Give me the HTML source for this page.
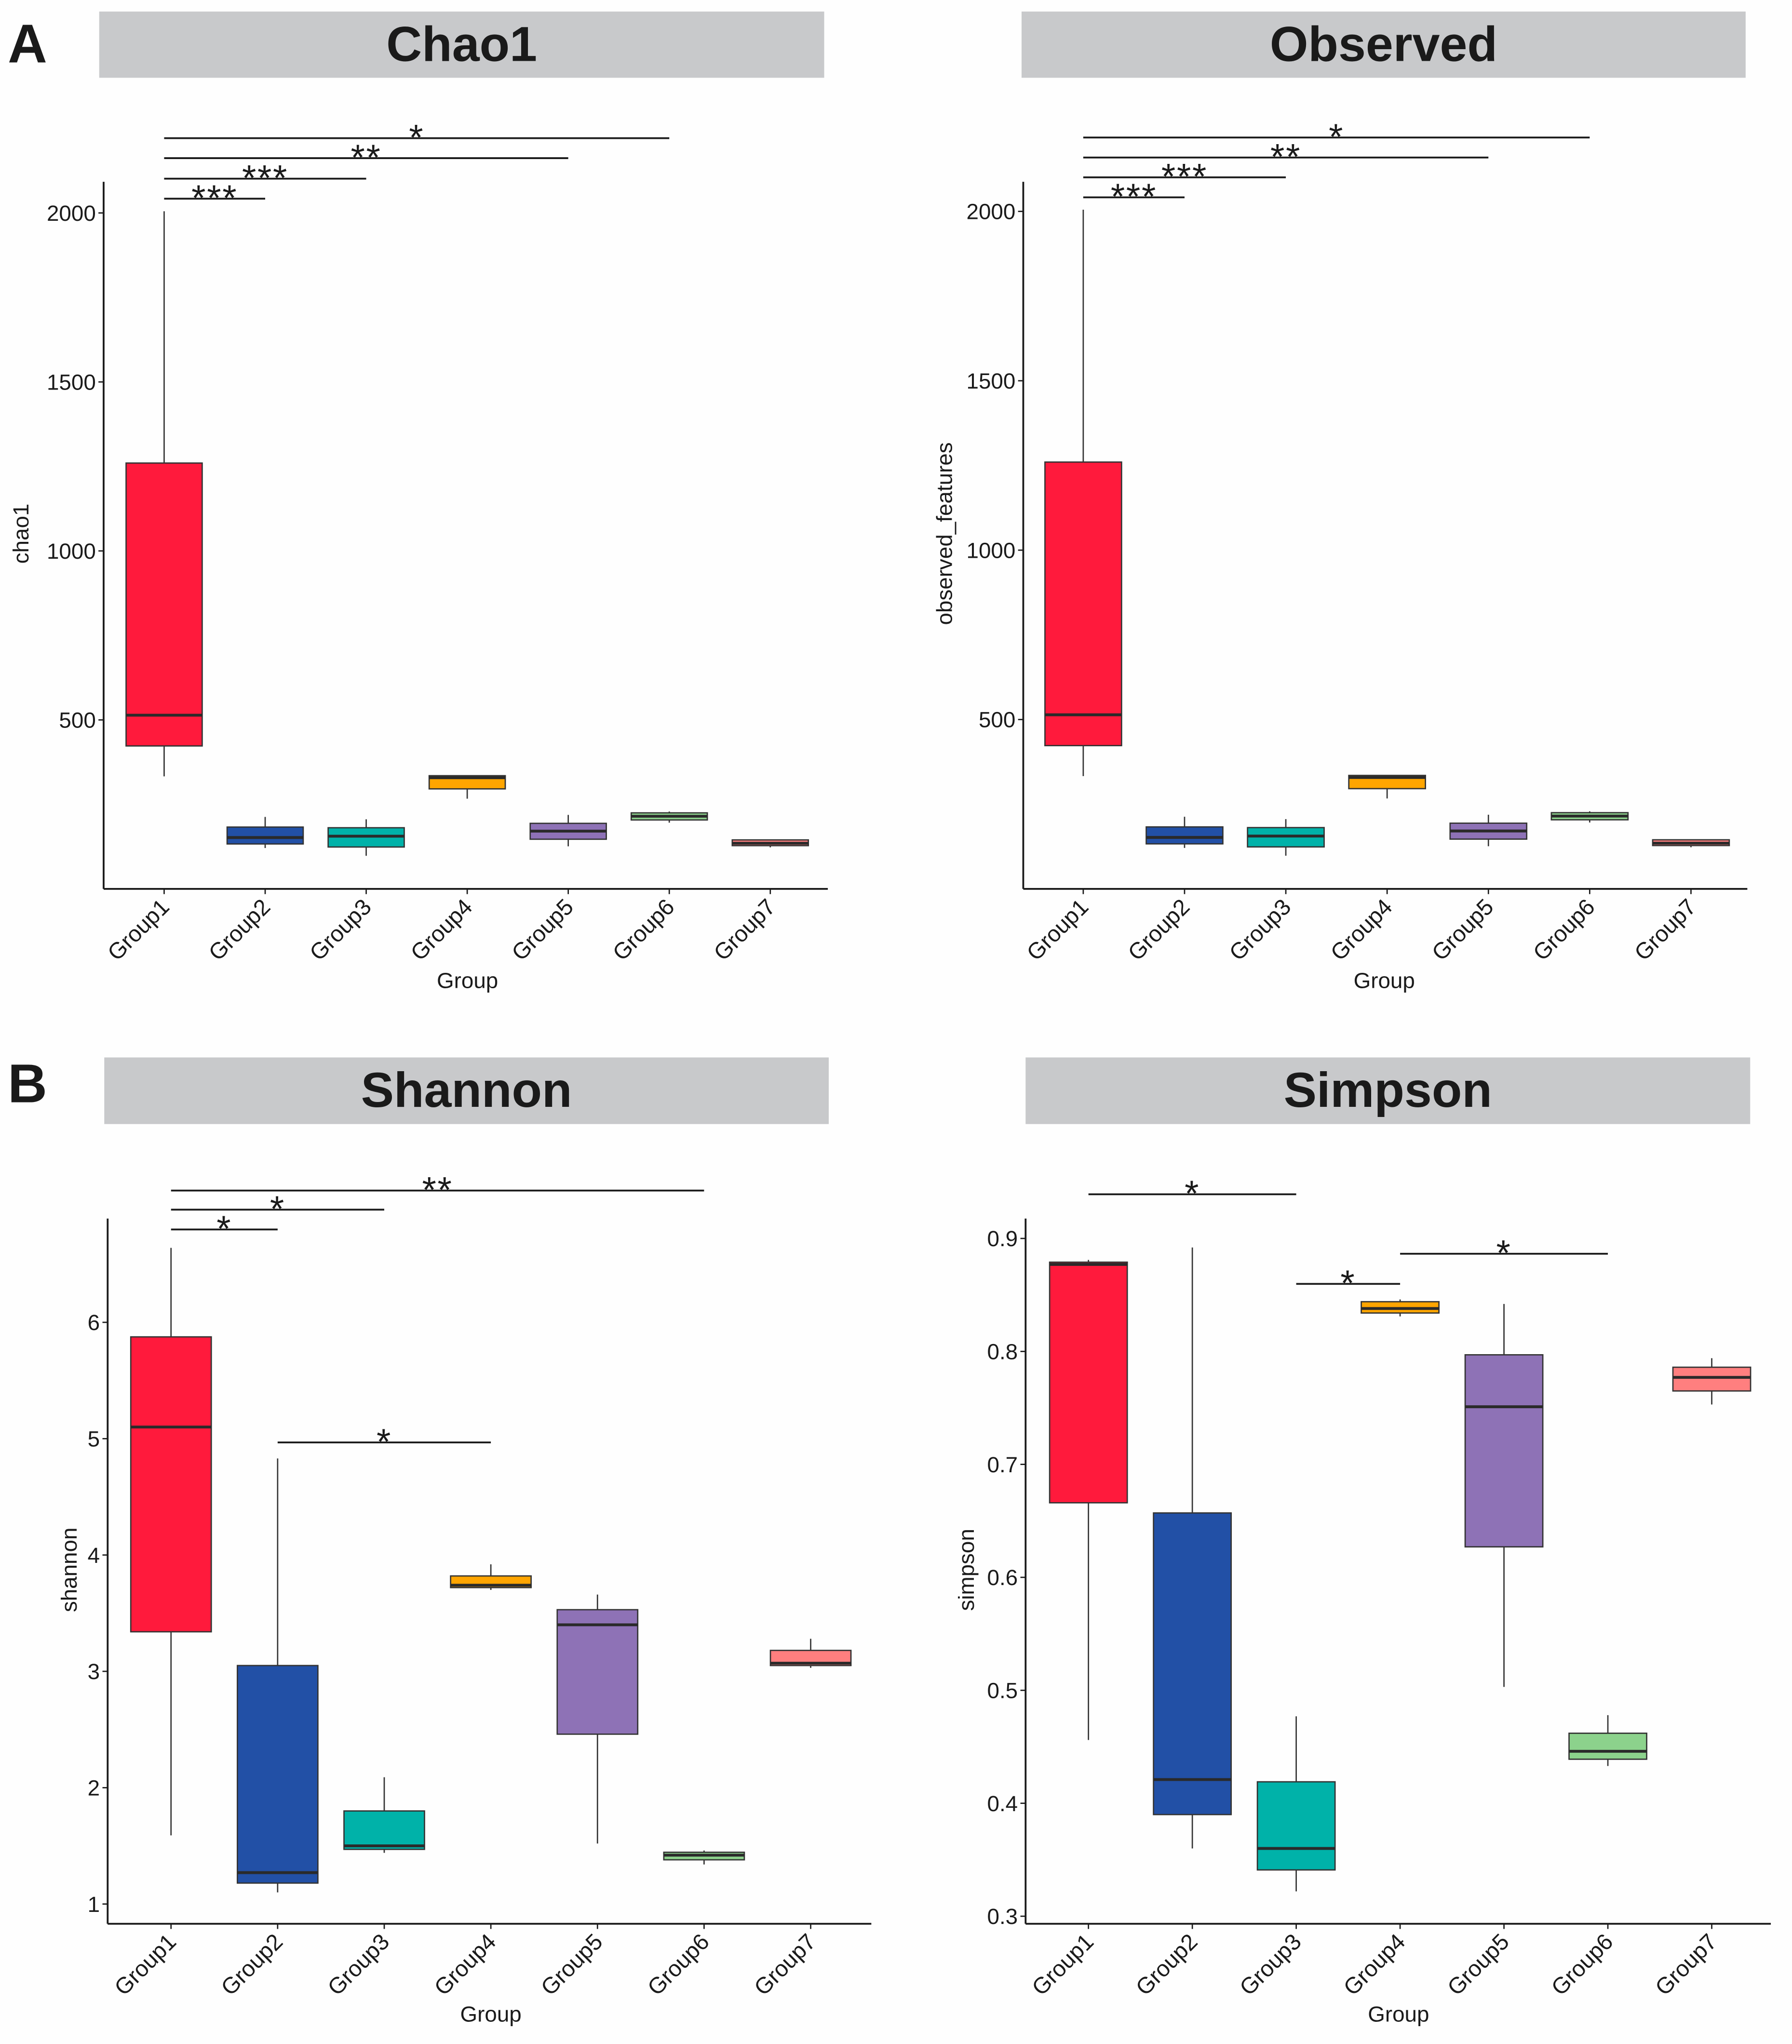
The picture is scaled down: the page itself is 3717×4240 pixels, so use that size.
<!DOCTYPE html>
<html><head><meta charset="utf-8"><style>
html,body{margin:0;padding:0;background:#fefefe;}
svg{display:block;}
text{font-family:"Liberation Sans",Arial,sans-serif;fill:#1a1a1a;}
</style></head><body>
<svg id="fig" width="3717" height="4240" viewBox="0 0 1380 1574.2" preserveAspectRatio="none" xmlns="http://www.w3.org/2000/svg">
<rect x="0" y="0" width="1380" height="1574.2" fill="#fefefe"/>
<text x="6" y="48" font-size="42" font-weight="bold">A</text>
<text x="6" y="849" font-size="42" font-weight="bold">B</text>
</svg>
<script>
const groups = ["Group1","Group2","Group3","Group4","Group5","Group6","Group7"];
const colors = ["#FF1A3C","#2250A6","#00B2A9","#FFA500","#8E72B6","#8CD28C","#FF7F7F"];
// chao1: [low, q1, median, q3, high]
const chaoLow = [333,121,98,267,126,196,123];
const chaoQ1 = [423,133,124,296,147,204,128];
const chaoMed = [514,152,156,329,171,215,135];
const chaoQ3 = [1260,183,181,335,194,225,145];
const chaoHigh = [2005,213,206,335,219,229,145];
const chaoTicks = [500,1000,1500,2000];
const chaoSig = [["Group1","Group2","***"],["Group1","Group3","***"],["Group1","Group5","**"],["Group1","Group6","*"]];
// observed
const obsLow = [333,121,98,267,126,196,123];
const obsQ1 = [423,133,124,296,147,204,128];
const obsMed = [514,152,156,329,171,215,135];
const obsQ3 = [1260,183,181,335,194,225,145];
const obsHigh = [2005,213,206,335,219,229,145];
const obsTicks = [500,1000,1500,2000];
const obsSig = [["Group1","Group2","***"],["Group1","Group3","***"],["Group1","Group5","**"],["Group1","Group6","*"]];
// shannon
const shLow = [1.59,1.10,1.44,3.70,1.52,1.34,3.03];
const shQ1 = [3.34,1.18,1.47,3.72,2.46,1.38,3.05];
const shMed = [5.10,1.27,1.50,3.74,3.40,1.42,3.07];
const shQ3 = [5.875,3.05,1.80,3.82,3.53,1.445,3.18];
const shHigh = [6.64,4.83,2.09,3.92,3.66,1.46,3.28];
const shTicks = [1,2,3,4,5,6];
const shSig = [["Group1","Group2","*"],["Group1","Group3","*"],["Group1","Group6","**"],["Group2","Group4","*"]];
// simpson
const siLow = [0.456,0.360,0.322,0.831,0.503,0.433,0.753];
const siQ1 = [0.666,0.390,0.341,0.834,0.627,0.439,0.765];
const siMed = [0.877,0.421,0.360,0.838,0.751,0.446,0.777];
const siQ3 = [0.879,0.657,0.419,0.844,0.797,0.462,0.786];
const siHigh = [0.881,0.892,0.477,0.846,0.842,0.478,0.794];
const siTicks = [0.3,0.4,0.5,0.6,0.7,0.8,0.9];
const siSig = [["Group1","Group3","*"],["Group3","Group4","*"],["Group4","Group6","*"]];

const NS="http://www.w3.org/2000/svg";
const svg=document.getElementById('fig');
function mk(tag,attrs,parent){const e=document.createElementNS(NS,tag);for(const k in attrs)e.setAttribute(k,attrs[k]);(parent||svg).appendChild(e);return e;}

const panels=[
 {key:"chao1",title:"Chao1",ylab:"chao1",strip:[76.4,8.9,634.7,59.9],ax:[79.8,140,637.5,684.6],g1:126.4,gs:77.8,hw:29.3,
  y0:684.6,v0:0,k:0.2603,ylabX:22,ylabY:411,xlabX:360,xlabY:761,sigY:[153,137.6,121.8,106.4],
  low:chaoLow,q1:chaoQ1,med:chaoMed,q3:chaoQ3,high:chaoHigh,ticks:chaoTicks,sig:chaoSig,dec:0},
 {key:"observed",title:"Observed",ylab:"observed_features",strip:[786.7,8.9,1344.3,59.9],ax:[788,140,1345.6,684.6],g1:834.2,gs:78,hw:29.5,
  y0:684.6,v0:0,k:0.2609,ylabX:733,ylabY:411,xlabX:1066,xlabY:761,sigY:[152,136.6,121.3,105.9],
  low:obsLow,q1:obsQ1,med:obsMed,q3:obsQ3,high:obsHigh,ticks:obsTicks,sig:obsSig,dec:0},
 {key:"shannon",title:"Shannon",ylab:"shannon",strip:[80.3,814.4,638.2,865.7],ax:[82.9,938.5,671,1481.6],g1:131.7,gs:82.1,hw:31,
  y0:1466.4,v0:1,k:89.6,ylabX:59,ylabY:1209,xlabX:378,xlabY:1557,sigY:[946.9,931.6,916.9,1110.9],
  low:shLow,q1:shQ1,med:shMed,q3:shQ3,high:shHigh,ticks:shTicks,sig:shSig,dec:0},
 {key:"simpson",title:"Simpson",ylab:"simpson",strip:[789.8,814.4,1347.8,865.7],ax:[789.8,938.5,1363.7,1481.6],g1:838.2,gs:80,hw:29.9,
  y0:1475.8,v0:0.3,k:870,ylabX:750,ylabY:1209,xlabX:1077,xlabY:1557,sigY:[919.8,988.8,965.6],
  low:siLow,q1:siQ1,med:siMed,q3:siQ3,high:siHigh,ticks:siTicks,sig:siSig,dec:1}
];

panels.forEach(p=>{
 const g=mk('g',{});
 
 
 const yS=v=>p.y0-(v-p.v0)*p.k;
 const xS=name=>p.g1+groups.indexOf(name)*p.gs;
 const st=mk('rect',{x:p.strip[0],y:p.strip[1],width:p.strip[2]-p.strip[0],height:p.strip[3]-p.strip[1],fill:'#c8c9cb'},g);
 
 
 const tt=mk('text',{x:(p.strip[0]+p.strip[2])/2,y:p.strip[1]+38,'text-anchor':'middle','font-size':38,'font-weight':'bold'},g);
 tt.textContent=p.title;
 
 
 const ya=mk('line',{x1:p.ax[0],y1:p.ax[1],x2:p.ax[0],y2:p.ax[3],stroke:'#1a1a1a','stroke-width':1.4},g);
 
 
 const xa=mk('line',{x1:p.ax[0],y1:p.ax[3],x2:p.ax[2],y2:p.ax[3],stroke:'#1a1a1a','stroke-width':1.4},g);
 
 
 p.ticks.forEach(t=>{
  const y=yS(t);
  mk('line',{x1:p.ax[0]-4,y1:y,x2:p.ax[0],y2:y,stroke:'#1a1a1a','stroke-width':1},g);
  const tl=mk('text',{x:p.ax[0]-6,y:y+6,'text-anchor':'end','font-size':17},g);
  tl.textContent=t.toFixed(p.dec);
  
  
 });
 groups.forEach((name,i)=>{
  const x=xS(name);
  mk('line',{x1:x,y1:p.ax[3],x2:x,y2:p.ax[3]+4,stroke:'#1a1a1a','stroke-width':1},g);
  const lx=x+5, ly=p.ax[3]+15;
  const xl=mk('text',{x:lx,y:ly,'text-anchor':'end','font-size':17.5,transform:`rotate(-45 ${lx} ${ly})`},g);
  xl.textContent=name;
  
  
  const bg=mk('g',{},g);
  
  
  mk('line',{x1:x,y1:yS(p.high[i]),x2:x,y2:yS(p.q3[i]),stroke:'#333','stroke-width':1},bg);
  mk('line',{x1:x,y1:yS(p.q1[i]),x2:x,y2:yS(p.low[i]),stroke:'#333','stroke-width':1},bg);
  const top=yS(p.q3[i]),bot=yS(p.q1[i]);
  mk('rect',{x:x-p.hw,y:top,width:2*p.hw,height:Math.max(bot-top,0.5),fill:colors[i],stroke:'#333','stroke-width':1},bg);
  mk('line',{x1:x-p.hw,y1:yS(p.med[i]),x2:x+p.hw,y2:yS(p.med[i]),stroke:'#2a2a2a','stroke-width':2.2},bg);
 });
 p.sig.forEach((s,j)=>{
  const y=p.sigY[j],x1=xS(s[0]),x2=xS(s[1]);
  const sl=mk('line',{x1:x1,y1:y,x2:x2,y2:y,stroke:'#1a1a1a','stroke-width':1.4},g);
  
  
  const sx=mk('text',{x:(x1+x2)/2,y:y+9,'text-anchor':'middle','font-size':28,'letter-spacing':'1'},g);
  sx.textContent=s[2];
  
  
 });
 const yl=mk('text',{x:p.ylabX,y:p.ylabY,'text-anchor':'middle','font-size':17,transform:`rotate(-90 ${p.ylabX} ${p.ylabY})`},g);
 yl.textContent=p.ylab;
 
 
 const xt=mk('text',{x:p.xlabX,y:p.xlabY,'text-anchor':'middle','font-size':17},g);
 xt.textContent='Group';
 
 
});
</script>
</body></html>
